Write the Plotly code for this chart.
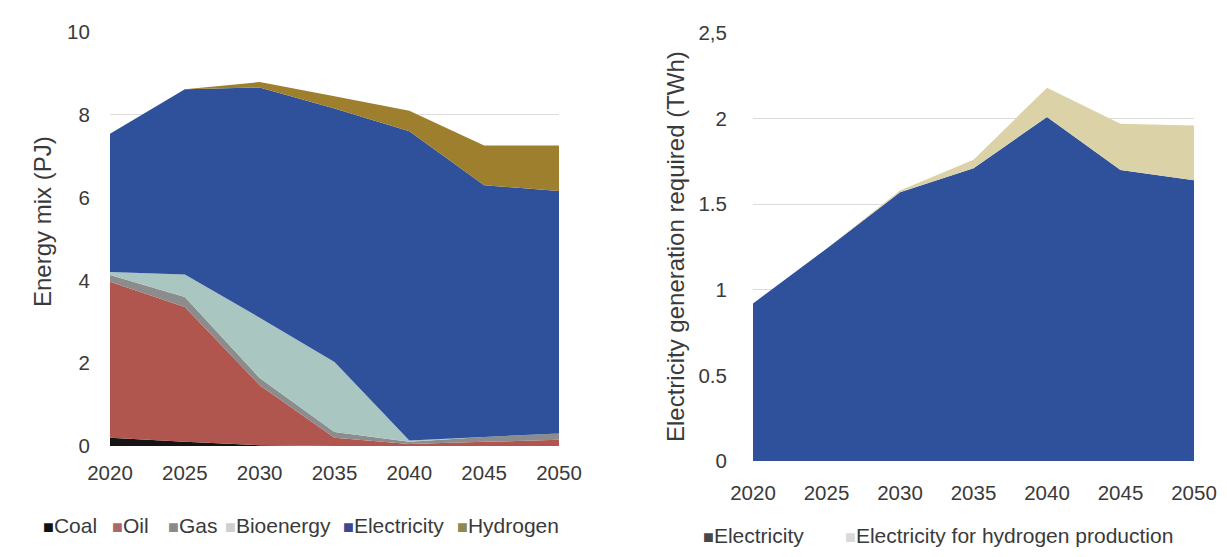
import plotly.graph_objects as go

years = [2020, 2025, 2030, 2035, 2040, 2045, 2050]

# Left chart: energy mix (PJ), stacked
coal = [0.20, 0.10, 0.02, 0.00, 0.00, 0.00, 0.00]
oil = [3.77, 3.26, 1.45, 0.20, 0.05, 0.10, 0.15]
gas = [0.16, 0.24, 0.17, 0.14, 0.05, 0.12, 0.15]
bioenergy = [0.07, 0.54, 1.46, 1.69, 0.03, 0.00, 0.00]
electricity = [3.34, 4.48, 5.56, 6.12, 7.47, 6.08, 5.86]
hydrogen = [0.00, 0.00, 0.13, 0.30, 0.50, 0.96, 1.10]

# Right chart: electricity generation required (TWh), stacked
elec_gen = [0.92, 1.24, 1.57, 1.71, 2.01, 1.70, 1.64]
elec_h2 = [0.00, 0.00, 0.01, 0.05, 0.17, 0.27, 0.32]

left_names = ["Coal", "Oil", "Gas", "Bioenergy", "Electricity", "Hydrogen"]
left_values = [coal, oil, gas, bioenergy, electricity, hydrogen]
left_fill = ["#141414", "#b0564f", "#8c8c8c", "#a9c6c1", "#2f519b", "#9e7f2e"]
left_swatch = ["#111111", "#a8686e", "#8a8a8a", "#cfcfcf", "#3b4a8e", "#8b8a4e"]

right_names = ["Electricity", "Electricity for hydrogen production"]
right_values = [elec_gen, elec_h2]
right_fill = ["#2f519b", "#dcd2a8"]
right_swatch = ["#474747", "#dadada"]

FONT = "Liberation Sans, Arial, sans-serif"
TXT = "#3a3a3a"
OFF = 8  # page body margin
W, H = 1227 - 2 * OFF, 557 - 2 * OFF


def px(x):
    return (x - OFF) / W


def py(y):
    return 1 - (y - OFF) / H


fig = go.Figure()
for name, vals, fill in zip(left_names, left_values, left_fill):
    fig.add_trace(go.Scatter(x=years, y=vals, stackgroup="a", mode="none",
                             fillcolor=fill, name=name, showlegend=False,
                             xaxis="x", yaxis="y"))
for name, vals, fill in zip(right_names, right_values, right_fill):
    fig.add_trace(go.Scatter(x=years, y=vals, stackgroup="b", mode="none",
                             fillcolor=fill, name=name, showlegend=False,
                             xaxis="x2", yaxis="y2"))

tickfont = dict(family=FONT, size=20.5, color=TXT)

fig.update_layout(
    width=W, height=H,
    margin=dict(l=0, r=0, t=0, b=0),
    paper_bgcolor="white", plot_bgcolor="white",
    font=dict(family=FONT, size=20, color=TXT),
    showlegend=False,
    xaxis=dict(domain=[px(110), px(559)], range=[2020, 2050],
               tickvals=years, ticktext=[str(y) for y in years],
               showgrid=False, zeroline=False, showline=False, automargin=False,
               ticks="outside", ticklen=8, tickcolor="rgba(0,0,0,0)",
               tickfont=tickfont, anchor="y"),
    yaxis=dict(domain=[py(446), py(32)], range=[0, 10],
               tickvals=[0, 2, 4, 6, 8, 10],
               showgrid=True, gridcolor="#dcdcdc", gridwidth=1,
               zeroline=False, showline=False, automargin=False,
               ticks="outside", ticklen=15, tickcolor="rgba(0,0,0,0)",
               tickfont=tickfont, anchor="x"),
    xaxis2=dict(domain=[px(753), px(1194)], range=[2020, 2050],
                tickvals=years, ticktext=[str(y) for y in years],
                showgrid=False, zeroline=False, showline=False, automargin=False,
                ticks="outside", ticklen=13, tickcolor="rgba(0,0,0,0)",
                tickfont=tickfont, anchor="y2"),
    yaxis2=dict(domain=[py(461), py(33)], range=[0, 2.5],
                tickvals=[0, 0.5, 1, 1.5, 2, 2.5],
                ticktext=["0", "0.5", "1", "1.5", "2", "2,5"],
                showgrid=True, gridcolor="#dcdcdc", gridwidth=1,
                zeroline=False, showline=False, automargin=False,
                ticks="outside", ticklen=21, tickcolor="rgba(0,0,0,0)",
                tickfont=tickfont, anchor="x2"),
)

# Y-axis titles
fig.add_annotation(text="Energy mix (PJ)", textangle=-90, showarrow=False,
                   xref="paper", yref="paper", x=px(42), y=py(222),
                   xanchor="center", yanchor="middle",
                   font=dict(family=FONT, size=24, color=TXT))
fig.add_annotation(text="Electricity generation required (TWh)", textangle=-90,
                   showarrow=False, xref="paper", yref="paper",
                   x=px(675), y=py(247), xanchor="center", yanchor="middle",
                   font=dict(family=FONT, size=24, color=TXT))

# Legends (swatch + label), drawn as text
left_leg_x = [41, 110, 166, 223, 341, 455]
for name, col, lx in zip(left_names, left_swatch, left_leg_x):
    fig.add_annotation(
        text=f"<span style='color:{col};font-size:18px'>■</span>{name}",
        showarrow=False, xref="paper", yref="paper",
        x=px(lx), y=py(525), xanchor="left", yanchor="middle",
        font=dict(family=FONT, size=21, color=TXT))
right_leg_x = [701, 843]
for name, col, lx in zip(right_names, right_swatch, right_leg_x):
    fig.add_annotation(
        text=f"<span style='color:{col};font-size:18px'>■</span>{name}",
        showarrow=False, xref="paper", yref="paper",
        x=px(lx), y=py(535), xanchor="left", yanchor="middle",
        font=dict(family=FONT, size=21, color=TXT))

fig.write_html("out.html")
